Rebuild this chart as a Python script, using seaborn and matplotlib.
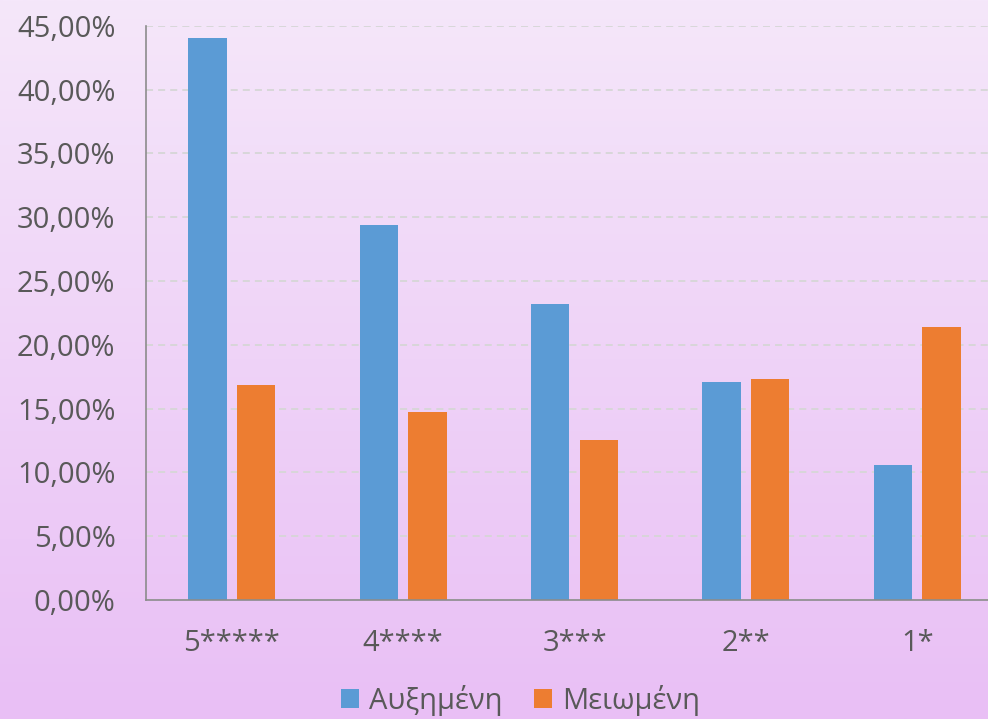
import numpy as np
import pandas as pd
import matplotlib
matplotlib.use('Agg')
import matplotlib.pyplot as plt
from matplotlib.ticker import FuncFormatter, MultipleLocator
from matplotlib.colors import LinearSegmentedColormap
import seaborn as sns

# values (percent)
categories = ['5*****', '4****', '3***', '2**', '1*']
increased = [44.07, 29.37, 23.17, 17.06, 10.55]
decreased = [16.85, 14.76, 12.54, 17.35, 21.41]
series_names = ['Αυξημένη', 'Μειωμένη']

df = pd.DataFrame({
    'cat': categories * 2,
    'val': increased + decreased,
    'series': [series_names[0]] * 5 + [series_names[1]] * 5,
})

sns.set_style('white')
plt.rcParams['font.family'] = ['Open Sans', 'DejaVu Sans']
text_col = '#595959'

fig = plt.figure(figsize=(9.88, 7.19), dpi=100)

# gradient background
bg = fig.add_axes([0, 0, 1, 1], zorder=-10)
grad_cmap = LinearSegmentedColormap.from_list('bg', ['#f5e7fa', '#e9bff5'])
bg.imshow(np.linspace(0, 1, 256).reshape(-1, 1), aspect='auto', cmap=grad_cmap,
          extent=[0, 1, 0, 1])
bg.axis('off')

# plot area runs a little past the right edge of the figure
ax = fig.add_axes([146 / 988, 1 - 600 / 719, 857 / 988, (600 - 25.7) / 719])
ax.patch.set_alpha(0)

sns.barplot(data=df, x='cat', y='val', hue='series', ax=ax,
            palette=['#5b9bd5', '#ed7d31'], saturation=1,
            width=0.568, gap=0.21, edgecolor='none', legend=True)

ax.set_ylim(0, 45)
ax.set_xlim(-0.5, 4.5)
ax.yaxis.set_major_locator(MultipleLocator(5))
ax.yaxis.set_major_formatter(FuncFormatter(lambda v, p: f'{v:.2f}%'.replace('.', ',')))
ax.grid(axis='y', color='#d6d6d6', linestyle=(0, (3.9, 2.8)), linewidth=1.3)
ax.set_axisbelow(True)

for s in ['top', 'right']:
    ax.spines[s].set_visible(False)
for s in ['left', 'bottom']:
    ax.spines[s].set_color('#8c8c8c')
    ax.spines[s].set_linewidth(1.2)

ax.tick_params(axis='y', length=0, pad=22, labelsize=21, labelcolor=text_col)
ax.tick_params(axis='x', length=0, pad=21, labelsize=21, labelcolor=text_col)
ax.set_xlabel('')
ax.set_ylabel('')

handles, labels = ax.get_legend_handles_labels()
ax.get_legend().remove()
fig.legend(handles, labels, loc='center', bbox_to_anchor=(0.527, 0.026), ncol=2,
           frameon=False, fontsize=21, labelcolor=text_col, handlelength=0.6,
           handleheight=0.6, handletextpad=0.35, columnspacing=1.1)

fig.savefig('out.png', dpi=100)
